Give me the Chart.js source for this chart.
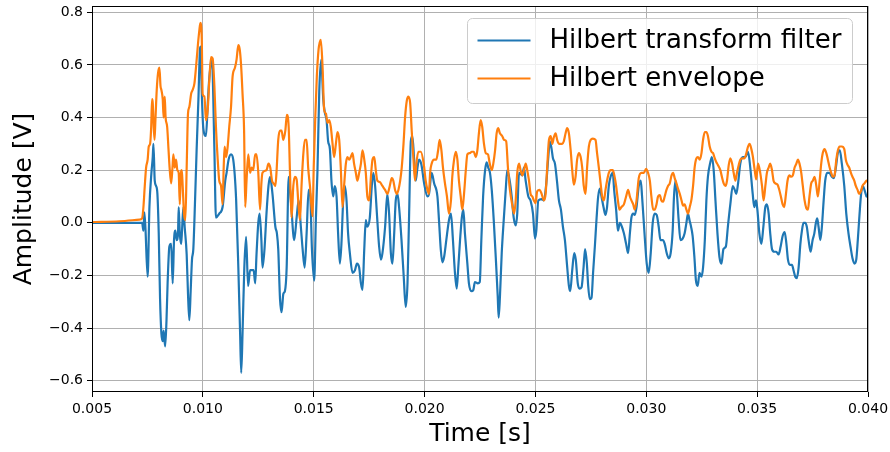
<!doctype html>
<html lang="en">
<head>
<meta charset="utf-8">
<title>Hilbert transform filter and envelope</title>
<style>
  * { margin: 0; padding: 0; }
  body { background: #fff; }
  #chart { display: block; }
</style>
</head>
<body>
<canvas id="chart" width="890" height="452"></canvas>
<script src="https://cdn.jsdelivr.net/npm/chart.js/dist/chart.umd.min.js"></script>
<script>
// Hilbert transform filter output (time in s, amplitude in V)
const filterTime = [
  0.00500, 0.00718, 0.00726, 0.00732, 0.00736, 0.00741, 0.00751, 0.00759, 0.00768, 0.00774,
  0.00777, 0.00783, 0.00789, 0.00795, 0.00801, 0.00807, 0.00813, 0.00819, 0.00823, 0.00830,
  0.00836, 0.00841, 0.00849, 0.00857, 0.00864, 0.00870, 0.00876, 0.00882, 0.00888, 0.00891,
  0.00896, 0.00902, 0.00906, 0.00912, 0.00918, 0.00927, 0.00933, 0.00939, 0.00945, 0.00951,
  0.00957, 0.00965, 0.00972, 0.00980, 0.00987, 0.00990, 0.00995, 0.01002, 0.01014, 0.01022,
  0.01029, 0.01041, 0.01052, 0.01059, 0.01074, 0.01089, 0.01101, 0.01107, 0.01116, 0.01127,
  0.01137, 0.01150, 0.01160, 0.01168, 0.01173, 0.01179, 0.01187, 0.01195, 0.01204, 0.01213,
  0.01222, 0.01229, 0.01236, 0.01242, 0.01250, 0.01256, 0.01264, 0.01269, 0.01278, 0.01287,
  0.01296, 0.01303, 0.01314, 0.01327, 0.01334, 0.01340, 0.01348, 0.01355, 0.01363, 0.01370,
  0.01378, 0.01387, 0.01397, 0.01412, 0.01423, 0.01432, 0.01442, 0.01450, 0.01459, 0.01468,
  0.01477, 0.01484, 0.01492, 0.01502, 0.01510, 0.01517, 0.01525, 0.01534, 0.01543, 0.01550,
  0.01558, 0.01565, 0.01573, 0.01580, 0.01588, 0.01595, 0.01603, 0.01610, 0.01618, 0.01625,
  0.01633, 0.01641, 0.01648, 0.01655, 0.01663, 0.01675, 0.01686, 0.01695, 0.01705, 0.01713,
  0.01720, 0.01728, 0.01735, 0.01741, 0.01753, 0.01762, 0.01769, 0.01777, 0.01785, 0.01795,
  0.01803, 0.01810, 0.01822, 0.01832, 0.01840, 0.01848, 0.01855, 0.01863, 0.01870, 0.01878,
  0.01885, 0.01896, 0.01906, 0.01915, 0.01923, 0.01930, 0.01938, 0.01945, 0.01953, 0.01960,
  0.01968, 0.01975, 0.01986, 0.01998, 0.02013, 0.02020, 0.02032, 0.02043, 0.02058, 0.02065,
  0.02073, 0.02080, 0.02088, 0.02098, 0.02110, 0.02119, 0.02128, 0.02137, 0.02145, 0.02152,
  0.02160, 0.02168, 0.02175, 0.02182, 0.02193, 0.02200, 0.02211, 0.02220, 0.02227, 0.02240,
  0.02249, 0.02256, 0.02264, 0.02273, 0.02280, 0.02287, 0.02295, 0.02303, 0.02312, 0.02321,
  0.02330, 0.02334, 0.02340, 0.02348, 0.02357, 0.02366, 0.02373, 0.02384, 0.02393, 0.02402,
  0.02411, 0.02418, 0.02426, 0.02441, 0.02448, 0.02456, 0.02468, 0.02478, 0.02489, 0.02498,
  0.02504, 0.02513, 0.02528, 0.02538, 0.02549, 0.02558, 0.02565, 0.02573, 0.02579, 0.02588,
  0.02597, 0.02606, 0.02615, 0.02624, 0.02633, 0.02642, 0.02651, 0.02657, 0.02666, 0.02675,
  0.02682, 0.02691, 0.02699, 0.02708, 0.02717, 0.02724, 0.02732, 0.02738, 0.02745, 0.02753,
  0.02760, 0.02768, 0.02776, 0.02783, 0.02791, 0.02798, 0.02807, 0.02816, 0.02823, 0.02831,
  0.02839, 0.02849, 0.02855, 0.02864, 0.02872, 0.02881, 0.02890, 0.02899, 0.02909, 0.02918,
  0.02926, 0.02933, 0.02941, 0.02948, 0.02956, 0.02966, 0.02975, 0.02981, 0.02992, 0.03002,
  0.03011, 0.03020, 0.03029, 0.03038, 0.03047, 0.03056, 0.03064, 0.03074, 0.03083, 0.03092,
  0.03101, 0.03110, 0.03119, 0.03125, 0.03132, 0.03139, 0.03146, 0.03154, 0.03164, 0.03173,
  0.03181, 0.03188, 0.03195, 0.03202, 0.03209, 0.03217, 0.03224, 0.03232, 0.03240, 0.03249,
  0.03256, 0.03264, 0.03271, 0.03278, 0.03289, 0.03296, 0.03304, 0.03312, 0.03321, 0.03330,
  0.03339, 0.03348, 0.03359, 0.03368, 0.03379, 0.03390, 0.03399, 0.03406, 0.03414, 0.03424,
  0.03435, 0.03447, 0.03459, 0.03469, 0.03480, 0.03487, 0.03495, 0.03501, 0.03510, 0.03519,
  0.03528, 0.03537, 0.03544, 0.03552, 0.03559, 0.03567, 0.03577, 0.03586, 0.03597, 0.03606,
  0.03615, 0.03624, 0.03632, 0.03639, 0.03648, 0.03657, 0.03664, 0.03672, 0.03679, 0.03687,
  0.03695, 0.03702, 0.03709, 0.03717, 0.03724, 0.03732, 0.03741, 0.03750, 0.03758, 0.03765,
  0.03771, 0.03777, 0.03785, 0.03792, 0.03800, 0.03807, 0.03816, 0.03825, 0.03837, 0.03846,
  0.03855, 0.03864, 0.03873, 0.03882, 0.03893, 0.03902, 0.03912, 0.03921, 0.03930, 0.03939,
  0.03947, 0.03954, 0.03962, 0.03969, 0.03977, 0.03984, 0.03993
];
const filterAmp = [
  0, 0, 0, -0.03, 0.04, -0.02, -0.205, 0.06, 0.19, 0.25,
  0.30, 0.16, 0.14, 0.11, -0.04, -0.29, -0.42, -0.45, -0.41, -0.47,
  -0.37, -0.23, -0.09, -0.08, -0.23, -0.066, -0.03, -0.066, -0.04, 0.06,
  -0.04, -0.08, -0.03, 0.06, -0.015, -0.12, -0.27, -0.37, -0.26, -0.14,
  -0.1, 0.09, 0.28, 0.47, 0.66, 0.67, 0.5, 0.36, 0.33, 0.45,
  0.55, 0.62, 0.28, 0.02, 0.035, 0.06, 0.16, 0.19, 0.24, 0.26,
  0.24, 0.09, -0.17, -0.42, -0.57, -0.42, -0.17, -0.053, -0.24, -0.18,
  -0.18, -0.18, -0.23, -0.12, 0, 0.035, -0.066, -0.17, -0.1, 0.035,
  0.14, 0.175, 0.11, -0.015, -0.04, -0.1, -0.29, -0.34, -0.27, -0.26,
  -0.17, 0.175, 0.085, -0.066, 0.02, 0.085, -0.015, -0.1, -0.17, -0.04,
  0.125, 0.11, -0.1, -0.22, 0.02, 0.2, 0.5, 0.62, 0.47, 0.42,
  0.39, 0.31, 0.28, 0.16, 0.1, 0.14, 0.1, -0.04, -0.155, -0.08,
  0.085, 0.14, 0.085, -0.04, -0.115, -0.19, -0.18, -0.155, -0.17, -0.23,
  -0.255, -0.1, 0.01, -0.015, 0.02, 0.14, 0.19, 0.14, 0.035, -0.09,
  -0.14, -0.115, -0.015, 0.11, 0.035, -0.115, -0.155, -0.04, 0.085, 0.11,
  0.06, -0.066, -0.205, -0.32, -0.23, 0.02, 0.31, 0.33, 0.24, 0.16,
  0.21, 0.24, 0.22, 0.15, 0.1, 0.11, 0.19, 0.15, 0.1, 0.01,
  -0.1, -0.15, -0.13, -0.066, 0.01, 0.035, -0.066, -0.19, -0.25, -0.17,
  -0.066, 0.02, 0.05, -0.04, -0.155, -0.23, -0.26, -0.255, -0.225, -0.23,
  -0.225, -0.066, 0.1, 0.2, 0.23, 0.21, 0.19, 0.125, 0.01, -0.13,
  -0.28, -0.36, -0.28, -0.115, 0.01, 0.125, 0.2, 0.16, 0.1, 0.02,
  -0.01, 0.035, 0.19, 0.18, 0.21, 0.16, 0.1, 0.085, 0.035, -0.06,
  -0.03, 0.085, 0.09, 0.085, 0.15, 0.25, 0.31, 0.28, 0.245, 0.225,
  0.16, 0.085, 0.05, -0.015, -0.066, -0.155, -0.24, -0.26, -0.18, -0.115,
  -0.14, -0.23, -0.25, -0.245, -0.17, -0.1, -0.155, -0.24, -0.29, -0.285,
  -0.19, -0.09, 0.02, 0.1, 0.13, 0.1, 0.06, 0.03, 0.06, 0.14,
  0.175, 0.19, 0.125, 0.05, -0.03, 0, -0.015, -0.04, -0.08, -0.115,
  -0.04, 0.02, 0.035, 0.03, 0.06, 0.14, 0.16, 0.1, -0.04, -0.155,
  -0.19, -0.115, 0, 0.035, 0.03, -0.015, -0.066, -0.066, -0.08, -0.115,
  -0.135, -0.115, -0.03, 0.1, 0.16, 0.1, 0.01, -0.066, -0.06, -0.04,
  0, 0.035, 0.01, -0.015, -0.05, -0.13, -0.22, -0.24, -0.19, -0.205,
  -0.17, -0.066, 0.085, 0.175, 0.23, 0.25, 0.2, 0.085, -0.04, -0.13,
  -0.155, -0.1, -0.09, -0.015, 0.07, 0.14, 0.125, 0.11, 0.15, 0.225,
  0.25, 0.25, 0.27, 0.21, 0.11, 0.06, 0.085, 0.05, -0.04, -0.08,
  -0.015, 0.06, 0.07, 0.035, -0.04, -0.1, -0.11, -0.11, -0.12, -0.09,
  -0.05, -0.035, -0.08, -0.14, -0.16, -0.16, -0.18, -0.205, -0.21, -0.17,
  -0.08, -0.03, 0, 0, -0.015, -0.066, -0.11, -0.066, -0.04, 0,
  0.017, -0.015, -0.066, -0.015, 0.085, 0.16, 0.19, 0.19, 0.175, 0.17,
  0.21, 0.265, 0.275, 0.225, 0.14, 0.035, -0.04, -0.09, -0.135, -0.155,
  -0.14, -0.066, 0.035, 0.11, 0.14, 0.125, 0.1
];

// Hilbert envelope
const envTime = [
  0.00500, 0.00624, 0.00714, 0.00726, 0.00732, 0.00738, 0.00744, 0.00751, 0.00756, 0.00762,
  0.00767, 0.00771, 0.00774, 0.00777, 0.00782, 0.00786, 0.00792, 0.00798, 0.00804, 0.00809,
  0.00813, 0.00819, 0.00823, 0.00828, 0.00832, 0.00839, 0.00845, 0.00850, 0.00857, 0.00863,
  0.00867, 0.00873, 0.00879, 0.00885, 0.00891, 0.00896, 0.00900, 0.00905, 0.00909, 0.00915,
  0.00921, 0.00927, 0.00933, 0.00939, 0.00947, 0.00954, 0.00962, 0.00969, 0.00977, 0.00984,
  0.00989, 0.00995, 0.00999, 0.01007, 0.01014, 0.01022, 0.01029, 0.01037, 0.01044, 0.01052,
  0.01059, 0.01067, 0.01074, 0.01082, 0.01089, 0.01094, 0.01098, 0.01105, 0.01112, 0.01119,
  0.01127, 0.01134, 0.01145, 0.01152, 0.01160, 0.01166, 0.01172, 0.01179, 0.01186, 0.01191,
  0.01197, 0.01205, 0.01213, 0.01220, 0.01227, 0.01236, 0.01242, 0.01250, 0.01258, 0.01264,
  0.01269, 0.01287, 0.01296, 0.01304, 0.01312, 0.01319, 0.01327, 0.01332, 0.01340, 0.01348,
  0.01355, 0.01363, 0.01372, 0.01379, 0.01387, 0.01393, 0.01400, 0.01408, 0.01415, 0.01423,
  0.01430, 0.01438, 0.01445, 0.01453, 0.01460, 0.01468, 0.01475, 0.01483, 0.01495, 0.01500,
  0.01507, 0.01514, 0.01522, 0.01527, 0.01532, 0.01540, 0.01547, 0.01555, 0.01562, 0.01570,
  0.01577, 0.01585, 0.01592, 0.01600, 0.01607, 0.01615, 0.01622, 0.01630, 0.01637, 0.01645,
  0.01652, 0.01660, 0.01667, 0.01675, 0.01682, 0.01690, 0.01697, 0.01705, 0.01713, 0.01720,
  0.01728, 0.01735, 0.01742, 0.01750, 0.01758, 0.01765, 0.01773, 0.01780, 0.01787, 0.01798,
  0.01810, 0.01822, 0.01832, 0.01843, 0.01852, 0.01859, 0.01867, 0.01875, 0.01882, 0.01890,
  0.01897, 0.01905, 0.01912, 0.01920, 0.01927, 0.01935, 0.01942, 0.01950, 0.01957, 0.01963,
  0.01972, 0.01983, 0.01996, 0.02005, 0.02013, 0.02020, 0.02025, 0.02032, 0.02043, 0.02053,
  0.02061, 0.02068, 0.02076, 0.02083, 0.02092, 0.02101, 0.02110, 0.02119, 0.02125, 0.02133,
  0.02141, 0.02148, 0.02155, 0.02163, 0.02170, 0.02178, 0.02186, 0.02193, 0.02204, 0.02213,
  0.02222, 0.02231, 0.02238, 0.02245, 0.02253, 0.02260, 0.02268, 0.02276, 0.02286, 0.02294,
  0.02303, 0.02310, 0.02318, 0.02325, 0.02332, 0.02340, 0.02350, 0.02359, 0.02368, 0.02376,
  0.02385, 0.02395, 0.02404, 0.02411, 0.02418, 0.02426, 0.02433, 0.02441, 0.02448, 0.02456,
  0.02463, 0.02471, 0.02478, 0.02486, 0.02493, 0.02501, 0.02508, 0.02519, 0.02528, 0.02538,
  0.02546, 0.02553, 0.02561, 0.02569, 0.02576, 0.02583, 0.02591, 0.02598, 0.02606, 0.02621,
  0.02628, 0.02636, 0.02643, 0.02651, 0.02659, 0.02666, 0.02673, 0.02681, 0.02688, 0.02696,
  0.02704, 0.02711, 0.02718, 0.02726, 0.02733, 0.02741, 0.02749, 0.02759, 0.02771, 0.02778,
  0.02786, 0.02794, 0.02801, 0.02809, 0.02816, 0.02823, 0.02831, 0.02839, 0.02849, 0.02857,
  0.02864, 0.02872, 0.02879, 0.02888, 0.02899, 0.02909, 0.02918, 0.02926, 0.02933, 0.02941,
  0.02948, 0.02956, 0.02966, 0.02978, 0.02989, 0.02999, 0.03008, 0.03016, 0.03023, 0.03031,
  0.03038, 0.03046, 0.03053, 0.03061, 0.03068, 0.03076, 0.03083, 0.03091, 0.03098, 0.03106,
  0.03114, 0.03121, 0.03128, 0.03136, 0.03143, 0.03151, 0.03159, 0.03166, 0.03173, 0.03181,
  0.03188, 0.03196, 0.03204, 0.03211, 0.03218, 0.03226, 0.03233, 0.03241, 0.03249, 0.03256,
  0.03264, 0.03271, 0.03278, 0.03286, 0.03294, 0.03301, 0.03309, 0.03316, 0.03323, 0.03334,
  0.03341, 0.03349, 0.03357, 0.03364, 0.03372, 0.03379, 0.03387, 0.03394, 0.03402, 0.03409,
  0.03417, 0.03424, 0.03432, 0.03442, 0.03450, 0.03459, 0.03466, 0.03474, 0.03481, 0.03489,
  0.03496, 0.03504, 0.03514, 0.03522, 0.03529, 0.03537, 0.03544, 0.03552, 0.03559, 0.03567,
  0.03574, 0.03582, 0.03592, 0.03600, 0.03607, 0.03615, 0.03622, 0.03630, 0.03637, 0.03645,
  0.03654, 0.03661, 0.03669, 0.03677, 0.03684, 0.03691, 0.03699, 0.03706, 0.03714, 0.03722,
  0.03729, 0.03736, 0.03744, 0.03751, 0.03759, 0.03767, 0.03774, 0.03782, 0.03789, 0.03796,
  0.03804, 0.03812, 0.03819, 0.03827, 0.03834, 0.03841, 0.03849, 0.03857, 0.03864, 0.03872,
  0.03882, 0.03893, 0.03900, 0.03908, 0.03915, 0.03923, 0.03930, 0.03938, 0.03945, 0.03953,
  0.03960, 0.03968, 0.03975, 0.03984, 0.03993
];
const envAmp = [
  0.003, 0.006, 0.012, 0.017, 0.06, 0.14, 0.21, 0.24, 0.29, 0.30,
  0.365, 0.47, 0.455, 0.39, 0.315, 0.39, 0.505, 0.57, 0.59, 0.52,
  0.505, 0.47, 0.40, 0.48, 0.40, 0.365, 0.28, 0.21, 0.15, 0.21,
  0.26, 0.21, 0.24, 0.2, 0.19, 0.07, 0.175, 0.2, 0.14, 0.035,
  0.01, 0.21, 0.415, 0.44, 0.49, 0.505, 0.53, 0.59, 0.67, 0.73,
  0.76, 0.70, 0.49, 0.48, 0.39, 0.43, 0.54, 0.63, 0.625, 0.52,
  0.365, 0.24, 0.16, 0.14, 0.07, 0.21, 0.29, 0.25, 0.29, 0.365,
  0.44, 0.555, 0.59, 0.62, 0.675, 0.66, 0.605, 0.49, 0.35, 0.06,
  0.16, 0.26, 0.19, 0.21, 0.2, 0.26, 0.26, 0.19, 0.05, 0.15,
  0.19, 0.2, 0.225, 0.21, 0.16, 0.15, 0.14, 0.19, 0.315, 0.35,
  0.35, 0.315, 0.35, 0.41, 0.365, 0.19, 0.02, 0.14, 0.175, 0.165,
  0.085, 0.01, 0.14, 0.26, 0.315, 0.315, 0.21, 0.14, 0.025, 0.21,
  0.40, 0.555, 0.66, 0.685, 0.695, 0.59, 0.43, 0.415, 0.38, 0.39,
  0.365, 0.30, 0.25, 0.30, 0.345, 0.315, 0.21, 0.06, 0.14, 0.225,
  0.25, 0.24, 0.25, 0.265, 0.225, 0.19, 0.16, 0.19, 0.225, 0.275,
  0.24, 0.19, 0.1, 0.085, 0.175, 0.24, 0.25, 0.2, 0.16, 0.155,
  0.14, 0.125, 0.11, 0.14, 0.17, 0.16, 0.125, 0.11, 0.125, 0.16,
  0.21, 0.30, 0.40, 0.465, 0.48, 0.455, 0.35, 0.24, 0.16, 0.225,
  0.27, 0.27, 0.225, 0.16, 0.125, 0.11, 0.19, 0.225, 0.24, 0.24,
  0.275, 0.315, 0.275, 0.21, 0.15, 0.1, 0.035, 0.085, 0.175, 0.24,
  0.27, 0.24, 0.16, 0.1, 0.05, 0.11, 0.2, 0.26, 0.265, 0.27,
  0.27, 0.25, 0.275, 0.34, 0.39, 0.365, 0.30, 0.265, 0.26, 0.225,
  0.2, 0.225, 0.275, 0.34, 0.36, 0.34, 0.33, 0.315, 0.31, 0.21,
  0.125, 0.07, 0.035, 0.085, 0.19, 0.225, 0.2, 0.18, 0.2, 0.225,
  0.2, 0.16, 0.11, 0.1, 0.085, 0.075, 0.12, 0.125, 0.11, 0.085,
  0.11, 0.21, 0.315, 0.33, 0.30, 0.325, 0.34, 0.315, 0.30, 0.30,
  0.31, 0.34, 0.36, 0.34, 0.275, 0.2, 0.145, 0.175, 0.24, 0.265,
  0.25, 0.21, 0.14, 0.11, 0.21, 0.29, 0.315, 0.32, 0.315, 0.265,
  0.21, 0.15, 0.1, 0.085, 0.125, 0.16, 0.19, 0.2, 0.2, 0.175,
  0.14, 0.085, 0.05, 0.06, 0.07, 0.1, 0.125, 0.1, 0.085, 0.07,
  0.05, 0.085, 0.17, 0.19, 0.19, 0.205, 0.19, 0.16, 0.1, 0.05,
  0.05, 0.07, 0.1, 0.105, 0.085, 0.08, 0.1, 0.125, 0.14, 0.15,
  0.18, 0.19, 0.17, 0.15, 0.13, 0.11, 0.085, 0.065, 0.07, 0.05,
  0.035, 0.06, 0.09, 0.14, 0.21, 0.245, 0.25, 0.24, 0.265, 0.315,
  0.345, 0.345, 0.33, 0.29, 0.27, 0.265, 0.245, 0.23, 0.22, 0.2,
  0.175, 0.15, 0.14, 0.16, 0.22, 0.245, 0.225, 0.19, 0.16, 0.19,
  0.22, 0.24, 0.245, 0.245, 0.26, 0.29, 0.30, 0.28, 0.25, 0.2,
  0.165, 0.225, 0.19, 0.14, 0.085, 0.14, 0.19, 0.21, 0.225, 0.2,
  0.16, 0.15, 0.145, 0.125, 0.1, 0.07, 0.06, 0.11, 0.16, 0.18,
  0.175, 0.18, 0.21, 0.225, 0.24, 0.225, 0.19, 0.14, 0.085, 0.055,
  0.05, 0.1, 0.15, 0.16, 0.175, 0.14, 0.1, 0.16, 0.225, 0.265,
  0.28, 0.265, 0.24, 0.21, 0.19, 0.175, 0.18, 0.24, 0.275, 0.29,
  0.29, 0.28, 0.24, 0.22, 0.21, 0.19, 0.175, 0.16, 0.14, 0.125,
  0.11, 0.12, 0.14, 0.15, 0.16
];

const xTicks = [0.005, 0.010, 0.015, 0.020, 0.025, 0.030, 0.035, 0.040];
const yTicks = [-0.6, -0.4, -0.2, 0.0, 0.2, 0.4, 0.6, 0.8];
const seriesLabels = ['Hilbert transform filter', 'Hilbert envelope'];
const seriesColors = ['#1f77b4', '#ff7f0e'];

const toPoints = (ts, vs) => ts.map((t, i) => ({ x: t, y: vs[i] }));
const tickFont = { family: 'DejaVu Sans', size: 14 };
const titleFont = { family: 'DejaVu Sans', size: 25 };

// matplotlib style: full frame around the axes and a boxed legend top right
const frameAndLegend = {
  id: 'frameAndLegend',
  afterDraw(chart) {
    const { ctx, chartArea: a } = chart;
    ctx.save();
    ctx.strokeStyle = '#000';
    ctx.lineWidth = 1;
    ctx.strokeRect(a.left + 0.5, a.top + 0.5, a.right - a.left - 1, a.bottom - a.top - 1);

    const bx = a.left + 375.5, by = a.top + 12.5, bw = 385, bh = 85;
    ctx.beginPath();
    ctx.roundRect(bx, by, bw, bh, 5);
    ctx.fillStyle = 'rgba(255,255,255,0.8)';
    ctx.fill();
    ctx.strokeStyle = '#cccccc';
    ctx.stroke();

    ctx.font = '26px "DejaVu Sans"';
    ctx.textBaseline = 'middle';
    ctx.textAlign = 'left';
    seriesLabels.forEach((label, i) => {
      const y = by + 22 + i * 38;
      ctx.beginPath();
      ctx.moveTo(bx + 10, y);
      ctx.lineTo(bx + 63, y);
      ctx.strokeStyle = seriesColors[i];
      ctx.lineWidth = 2.2;
      ctx.stroke();
      ctx.fillStyle = '#000';
      ctx.fillText(label, bx + 82, y + 1);
    });
    ctx.restore();
  }
};

const lineStyle = {
  borderWidth: 2.2,
  pointRadius: 0,
  cubicInterpolationMode: 'monotone',
  borderJoinStyle: 'round',
  borderCapStyle: 'round'
};

new Chart(document.getElementById('chart'), {
  type: 'line',
  data: {
    datasets: [{
      ...lineStyle,
      label: seriesLabels[0],
      data: toPoints(filterTime, filterAmp),
      borderColor: seriesColors[0],
      order: 2
    }, {
      ...lineStyle,
      label: seriesLabels[1],
      data: toPoints(envTime, envAmp),
      borderColor: seriesColors[1],
      order: 1
    }]
  },
  options: {
    responsive: false,
    animation: false,
    devicePixelRatio: 1,
    layout: { padding: { top: 6, right: 22, left: 0, bottom: 0 } },
    plugins: { legend: { display: false }, tooltip: { enabled: false } },
    scales: {
      x: {
        type: 'linear',
        min: 0.005,
        max: 0.040,
        afterBuildTicks: s => { s.ticks = xTicks.map(v => ({ value: v })); },
        afterFit: s => { s.height = 60; s.paddingLeft = 0; s.paddingRight = 0; },
        ticks: {
          font: tickFont, color: '#000', padding: 4, maxRotation: 0, autoSkip: false,
          callback: v => v.toFixed(3)
        },
        grid: { color: '#b0b0b0', lineWidth: 1, tickColor: '#000', tickLength: 5 },
        border: { display: false },
        title: { display: true, text: 'Time [s]', font: titleFont, color: '#000', padding: { top: 0, bottom: 3 } }
      },
      y: {
        type: 'linear',
        min: -0.643,
        max: 0.824,
        afterBuildTicks: s => { s.ticks = yTicks.map(v => ({ value: v })); },
        afterFit: s => { s.width = 92; s.paddingTop = 0; s.paddingBottom = 0; },
        ticks: {
          font: tickFont, color: '#000', padding: 4, autoSkip: false,
          callback: v => (v < 0 ? '\u2212' : '') + Math.abs(v).toFixed(1)
        },
        grid: { color: '#b0b0b0', lineWidth: 1, tickColor: '#000', tickLength: 5 },
        border: { display: false },
        title: { display: true, text: 'Amplitude [V]', font: titleFont, color: '#000', padding: { top: 9, bottom: 0 } }
      }
    }
  },
  plugins: [frameAndLegend]
});
</script>
</body>
</html>
